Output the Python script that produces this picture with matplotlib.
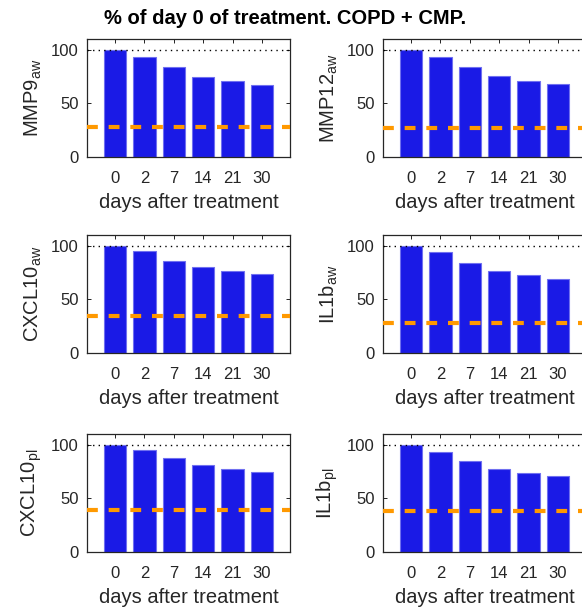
import matplotlib
matplotlib.use("Agg")
import matplotlib.pyplot as plt

plt.rcParams['font.family'] = ['Liberation Sans', 'DejaVu Sans']
plt.rcParams['mathtext.fontset'] = 'custom'
plt.rcParams['mathtext.rm'] = 'Liberation Sans'
plt.rcParams['mathtext.it'] = 'Liberation Sans'

# days after treatment (tick labels)
days = ["0", "2", "7", "14", "21", "30"]

# % of day 0 for each marker
mmp9_aw = [100, 93.5, 83.5, 74.8, 71.0, 67.3]
mmp12_aw = [100, 93.5, 83.5, 75.7, 71.0, 68.5]
cxcl10_aw = [100, 95.0, 86.0, 80.0, 76.3, 73.5]
il1b_aw = [100, 93.8, 83.8, 76.3, 72.3, 68.5]
cxcl10_pl = [100, 95.0, 87.6, 81.4, 77.6, 74.8]
il1b_pl = [100, 93.5, 84.8, 77.6, 73.9, 71.1]

# orange dashed reference levels
ref_levels = [27.7, 27.4, 34.3, 27.7, 39.1, 38.2]

labels = [r"MMP9$_{\mathrm{aw}}$", r"MMP12$_{\mathrm{aw}}$",
          r"CXCL10$_{\mathrm{aw}}$", r"IL1b$_{\mathrm{aw}}$",
          r"CXCL10$_{\mathrm{pl}}$", r"IL1b$_{\mathrm{pl}}$"]
series = [mmp9_aw, mmp12_aw, cxcl10_aw, il1b_aw, cxcl10_pl, il1b_pl]

fig = plt.figure(figsize=(5.82, 6.09), dpi=100)

lefts = [0.1495, 0.658]
bottoms = [0.742, 0.4204, 0.0936]
w, h = 0.3488, 0.194

pos = list(range(1, len(days) + 1))
for i, (vals, lab, ref) in enumerate(zip(series, labels, ref_levels)):
    ax = fig.add_axes([lefts[i % 2], bottoms[i // 2], w, h])
    ax.bar(pos, vals, width=0.76, color="#1a1ae6", edgecolor="#7070f0", linewidth=0.8, zorder=2)
    ax.axhline(100, color="black", linestyle=(0, (1, 3)), linewidth=1.0, zorder=3)
    ax.axhline(ref, color="#ff9900", linestyle=(0, (2.6, 2.6)), linewidth=3.0, zorder=4)
    ax.set_xlim(0.05, 6.95)
    ax.set_ylim(0, 110)
    ax.set_yticks([0, 50, 100])
    ax.set_xticks(pos)
    ax.set_xticklabels(days)
    ax.tick_params(direction="in", top=True, right=True, length=3, width=0.6,
                   labelsize=12, labelcolor="#262626")
    ax.tick_params(axis="x", pad=10)
    ax.tick_params(axis="y", pad=6)
    ax.set_xlabel("days after treatment", fontsize=14.5, color="#262626", labelpad=5)
    ax.set_ylabel(lab, fontsize=14.5, color="#262626", labelpad=5)
    for s in ax.spines.values():
        s.set_linewidth(0.9)
        s.set_color("#262626")

fig.text(0.49, 0.97, "% of day 0 of treatment. COPD + CMP.", ha="center", va="center",
         fontsize=14.5, fontweight="bold")

fig.savefig("out.png", dpi=100)
